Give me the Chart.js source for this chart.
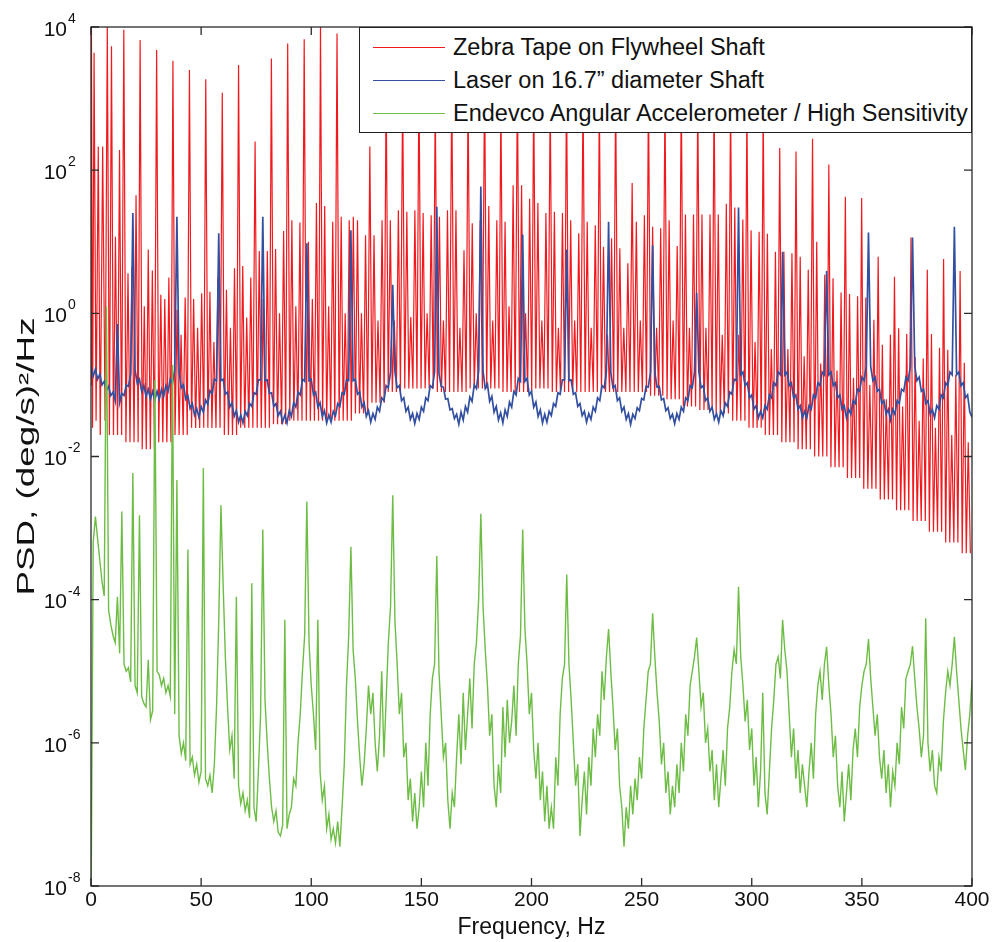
<!DOCTYPE html>
<html>
<head>
<meta charset="utf-8">
<title>PSD comparison</title>
<script src="https://cdn.jsdelivr.net/npm/chart.js@4.4.1/dist/chart.umd.min.js"></script>
<style>
  html, body { margin: 0; padding: 0; background: #fff; }
  #wrap { position: relative; width: 995px; height: 942px; }
  #legend {
    position: absolute; left: 359px; top: 27px; width: 613px; height: 106px;
    box-sizing: border-box; background: #fff; border: 1px solid #222;
    padding-top: 3px; font: 23.5px "Liberation Sans", Arial, sans-serif; color: #111;
  }
  .row { display: flex; align-items: center; height: 33px; white-space: nowrap; }
  .swatch { width: 72px; height: 0; border-top: 1.5px solid; margin: 0 8px 0 13px; }
</style>
</head>
<body>
<div id="wrap">
  <canvas id="psd" width="995" height="942"></canvas>
  <div id="legend"></div>
</div>
<script>
// ─── DATA (all PSD values as log10 of (deg/s)^2/Hz) ───────────────────────────

const seriesNames  = [
  'Zebra Tape on Flywheel Shaft',
  'Laser on 16.7\u201d diameter Shaft',
  'Endevco Angular Accelerometer / High Sensitivity'
];
const seriesColors = ['#f01a1e', '#3350a0', '#6dbd45'];

const xTicks   = [0, 50, 100, 150, 200, 250, 300, 350, 400];
const yTickExp = [-8, -6, -4, -2, 0, 2, 4];

// Zebra tape: comb of shaft-order peaks, each with two side bands and a small
// middle peak before the next order. Offsets (Hz) of those features from each peak.
const redOffsetsHz = [0, 0.95, 1.9, 2.8, 3.7, 4.65, 5.55, 6.5];

const redStartHz  = [0, 0.2, 0.7, 1.4, 2.3, 3.3, 4.2, 5.3, 6.4];
const redStartLog = [-1.0, 4.0, -1.6, 3.64, -1.5, 2.33, -1.7, 2.33, -1.5];

const redPeakHz = [
  7.4, 14.9, 22.3, 29.8, 37.2, 44.7, 52.1, 59.6, 67.0, 74.5,
  81.9, 89.3, 96.8, 104.2, 111.7, 119.1, 126.6, 134.0, 141.5, 148.9,
  156.3, 163.8, 171.2, 178.7, 186.1, 193.6, 201.0, 208.5, 215.9, 223.4,
  230.8, 238.2, 245.7, 253.1, 260.6, 268.0, 275.5, 282.9, 290.4, 297.8,
  305.2, 312.7, 320.1, 327.6, 335.0, 342.5, 349.9, 357.4, 364.8, 372.3,
  379.7, 387.1, 394.6
];
const redPeakLog = [
  4.0, 3.96, 3.82, 3.68, 3.53, 3.40, 3.27, 3.08, 3.47, 2.40,
  3.56, 3.77, 3.83, 4.0, 3.91, 1.35, 2.33, 3.2, 3.1, 3.3,
  3.0, 3.2, 3.1, 3.3, 3.0, 3.2, 3.1, 3.0, 3.2, 3.1,
  3.0, 3.1, 1.82, 3.1, 3.0, 3.2, 3.0, 3.1, 3.0, 2.9,
  2.9, 2.31, 2.26, 2.44, 2.08, 1.63, 1.61, 0.79, 0.51, 1.06,
  0.61, 0.76, 0.59
];
const redSideALog = [
  3.73, 0.56, 0.10, 0.26, 0.05, 0.20, 0.30, 0.33, 0.66, 0.87,
  0.90, 1.30, 1.00, 1.50, 1.35, 1.30, 1.09, 1.30, 1.42, 1.40,
  1.35, 1.44, 1.26, 1.50, 1.28, 1.79, 1.54, 1.42, 1.30, 1.28,
  0.93, 0.91, 1.28, 1.21, 1.30, 1.38, 1.38, 1.38, 1.48, 1.16,
  1.11, 0.86, 0.79, 1.00, 0.49, 0.27, 0.22, -0.44, -0.21, -0.61,
  -0.29, -0.51, -0.69
];
const redMidLog = [
  1.07, 0.65, 0.89, 0.20, -0.30, -0.20, -0.40, -0.20, -0.06, 0.20,
  0.00, 0.10, 0.20, 0.10, 0.00, 0.00, -0.10, -0.10, -0.05, 0.00,
  -0.10, -0.20, 0.00, -0.10, 0.10, 0.00, -0.10, -0.20, -0.10, -0.20,
  -0.30, -0.20, -0.10, -0.20, -0.10, -0.20, -0.20, -0.30, -0.30, -0.40,
  -0.50, -0.50, -0.60, -0.70, -0.80, -0.90, -1.00, -1.20, -1.30, -1.50,
  -1.60, -1.70, -1.80
];
const redSideBLog = [
  2.28, 1.65, 0.60, 0.50, 0.22, 0.28, 0.50, 0.63, 0.50, 0.87,
  1.15, 1.27, 1.54, 1.28, 1.30, 1.09, 1.30, 1.44, 1.44, 1.37,
  1.44, 0.88, 1.30, 1.30, 1.79, 1.60, 1.40, 1.40, 1.12, 1.23,
  1.05, 0.70, 1.37, 1.19, 0.94, 1.38, 1.38, 1.53, 1.31, 1.14,
  0.86, 0.84, 0.61, 0.54, 0.29, 0.24, -0.09, -0.30, -0.29, -0.63,
  -0.48, -0.86, -0.53
];
const redFloorLog = [
  -1.70, -1.80, -1.90, -1.80, -1.70, -1.60, -1.60, -1.70, -1.60, -1.60,
  -1.55, -1.50, -1.50, -1.50, -1.50, -1.40, -1.25, -1.10, -1.05, -1.05,
  -1.10, -1.10, -1.05, -1.05, -1.10, -1.10, -1.05, -1.10, -1.10, -1.10,
  -1.10, -1.10, -1.10, -1.15, -1.20, -1.30, -1.35, -1.40, -1.50, -1.60,
  -1.70, -1.80, -1.90, -2.00, -2.15, -2.30, -2.45, -2.60, -2.75, -2.90,
  -3.05, -3.20, -3.35
];

// Laser and accelerometer: one value per 1 Hz bin, 0..400 Hz
const blueLog = [
  -0.75, -0.88, -0.78, -0.92, -0.85, -1.00, -0.95, -1.08, -1.02, -1.15,
  -1.10, -1.22, -0.15, -1.25, -1.12, -1.15, -1.00, -1.02, -0.85, 1.40,
  -0.79, -0.98, -0.92, -1.09, -1.01, -1.16, -1.06, -1.20, -1.09, -1.21,
  -1.09, -1.20, -1.06, -1.16, -1.01, -1.09, -0.92, -0.98, -0.79, 1.35,
  -0.82, -1.04, -1.00, -1.20, -1.15, -1.33, -1.26, -1.42, -1.33, -1.45,
  -1.30, -1.38, -1.21, -1.27, -1.08, -1.12, -0.92, -0.94, 1.12, -0.94,
  -0.92, -1.13, -1.10, -1.31, -1.25, -1.44, -1.36, -1.52, -1.42, -1.53,
  -1.37, -1.43, -1.26, -1.30, -1.11, -1.13, -0.93, -0.93, 1.35, -0.94,
  -0.93, -1.12, -1.11, -1.30, -1.26, -1.43, -1.37, -1.52, -1.42, -1.53,
  -1.36, -1.44, -1.25, -1.31, -1.10, -1.14, -0.92, -0.95, 0.98, -0.94,
  -0.92, -1.14, -1.10, -1.31, -1.25, -1.44, -1.36, -1.53, -1.42, -1.52,
  -1.37, -1.43, -1.26, -1.30, -1.11, -1.13, -0.93, -0.94, 1.16, -0.94,
  -0.92, -1.13, -1.10, -1.31, -1.25, -1.44, -1.36, -1.52, -1.40, -1.48,
  -1.31, -1.37, -1.18, -1.22, -1.01, -1.04, -0.82, 0.40, -0.82, -1.04,
  -1.01, -1.22, -1.18, -1.37, -1.31, -1.48, -1.40, -1.54, -1.40, -1.48,
  -1.31, -1.37, -1.18, -1.22, -1.01, -1.04, -0.82, 1.49, -0.84, -1.02,
  -1.03, -1.20, -1.19, -1.35, -1.33, -1.47, -1.41, -1.55, -1.38, -1.49,
  -1.30, -1.38, -1.17, -1.23, -1.00, -1.05, -0.80, 1.77, -0.81, -1.05,
  -0.99, -1.23, -1.16, -1.38, -1.30, -1.49, -1.39, -1.53, -1.35, -1.44,
  -1.24, -1.31, -1.09, -1.14, -0.91, -0.95, 1.10, -0.95, -0.91, -1.14,
  -1.09, -1.31, -1.24, -1.44, -1.35, -1.53, -1.41, -1.52, -1.37, -1.43,
  -1.26, -1.30, -1.11, -1.13, -0.93, -0.93, 0.89, -0.94, -0.93, -1.13,
  -1.11, -1.30, -1.26, -1.43, -1.37, -1.52, -1.40, -1.48, -1.31, -1.37,
  -1.18, -1.22, -1.01, -1.04, -0.82, 1.28, -0.82, -1.04, -1.01, -1.22,
  -1.18, -1.37, -1.31, -1.48, -1.40, -1.55, -1.41, -1.47, -1.32, -1.36,
  -1.19, -1.21, -1.02, -1.03, -0.83, 0.95, -0.83, -1.03, -1.02, -1.21,
  -1.19, -1.36, -1.32, -1.47, -1.41, -1.54, -1.40, -1.48, -1.31, -1.37,
  -1.18, -1.22, -1.01, -1.04, -0.82, 0.29, -0.82, -1.04, -1.01, -1.22,
  -1.18, -1.37, -1.31, -1.48, -1.40, -1.52, -1.36, -1.43, -1.25, -1.30,
  -1.10, -1.13, -0.92, -0.94, 1.48, -0.86, -0.82, -1.01, -0.97, -1.18,
  -1.14, -1.34, -1.29, -1.46, -1.37, -1.46, -1.29, -1.34, -1.14, -1.18,
  -0.97, -1.01, -0.82, -0.86, 0.86, -0.86, -0.82, -1.01, -0.97, -1.18,
  -1.14, -1.34, -1.29, -1.46, -1.37, -1.46, -1.29, -1.34, -1.14, -1.18,
  -0.97, -1.01, -0.82, -0.86, 0.59, -0.86, -0.82, -1.01, -0.97, -1.18,
  -1.14, -1.34, -1.29, -1.46, -1.34, -1.41, -1.22, -1.26, -1.06, -1.09,
  -0.89, -0.94, -0.74, 1.13, -0.74, -0.94, -0.89, -1.09, -1.06, -1.26,
  -1.22, -1.41, -1.34, -1.49, -1.34, -1.41, -1.22, -1.26, -1.06, -1.09,
  -0.89, -0.94, -0.74, 1.06, -0.74, -0.94, -0.89, -1.09, -1.06, -1.26,
  -1.22, -1.41, -1.34, -1.46, -1.29, -1.34, -1.14, -1.18, -0.97, -1.01,
  -0.82, -0.86, 1.21, -0.86, -0.82, -1.01, -0.97, -1.18, -1.14, -1.38,
  -1.45
];

const greenLog = [
  -8.50, -3.20, -2.84, -3.15, -3.45, -3.75, -3.95, 0.10, -4.15, -4.35,
  -4.50, -4.60, -3.96, -4.75, -2.77, -4.90, -5.00, -4.95, -5.15, -2.23,
  -5.20, -5.30, -2.82, -5.35, -5.45, -5.50, -4.84, -5.68, -5.55, -0.93,
  -5.00, -5.05, -5.20, -5.10, -5.30, -5.20, -5.35, -0.72, -5.60, -2.33,
  -5.90, -6.15, -6.00, -6.25, -3.30, -6.30, -6.20, -6.45, -6.30, -6.55,
  -6.40, -2.16, -6.50, -6.60, -6.45, -6.70, -6.30, -5.50, -4.30, -2.68,
  -3.80, -4.80, -5.50, -6.10, -5.90, -6.50, -3.96, -6.60, -6.85, -6.70,
  -6.95, -6.80, -7.05, -3.77, -6.90, -7.10, -6.40, -5.60, -3.02, -5.40,
  -6.00, -6.50, -6.90, -7.10, -6.95, -7.25, -7.30, -7.15, -4.28, -7.20,
  -7.00, -6.90, -6.50, -6.60, -6.00, -5.60, -5.00, -4.50, -2.63, -4.60,
  -5.20, -5.60, -6.10, -4.28, -6.40, -6.80, -6.60, -7.20, -7.00, -7.35,
  -7.20, -7.40, -7.10, -7.45, -6.90, -6.30, -5.20, -4.50, -3.26, -4.70,
  -5.10, -5.70, -6.20, -6.60, -6.30, -5.80, -5.20, -5.60, -5.30, -6.00,
  -6.40, -5.90, -5.00, -6.20, -5.40, -4.60, -4.10, -2.54, -4.30, -4.90,
  -5.60, -5.30, -6.20, -6.00, -6.80, -6.50, -7.10, -6.70, -7.20, -6.90,
  -6.40, -6.90, -6.00, -6.60, -5.60, -5.10, -4.90, -3.39, -5.00, -5.60,
  -6.20, -6.00, -6.80, -7.20, -6.70, -6.90, -6.20, -5.60, -6.30, -5.30,
  -6.10, -5.60, -5.10, -5.80, -4.90, -4.60, -4.00, -2.80, -4.10, -4.70,
  -5.20, -5.90, -5.60, -6.60, -6.90, -6.30, -6.70, -5.50, -6.20, -5.40,
  -6.00, -5.70, -5.20, -5.90, -4.90, -4.50, -3.02, -4.40, -4.90, -5.60,
  -5.30, -6.10, -6.50, -6.00, -6.80, -6.40, -7.10, -6.60, -7.20, -6.90,
  -7.20, -6.20, -6.60, -5.60, -5.10, -4.90, -3.65, -4.90, -5.40, -6.00,
  -6.60, -6.30, -7.30, -6.80, -6.40, -7.00, -6.20, -6.60, -5.80, -6.20,
  -5.60, -5.90, -5.00, -5.40, -4.80, -4.41, -5.00, -5.50, -6.10, -5.80,
  -6.60, -6.90, -7.45, -6.90, -7.20, -6.60, -7.00, -6.50, -6.80, -6.20,
  -6.50, -5.80, -5.40, -5.00, -4.90, -4.19, -4.80, -5.30, -5.70, -6.30,
  -6.00, -6.70, -6.40, -7.00, -6.60, -6.90, -6.30, -6.70, -6.00, -6.40,
  -5.60, -5.90, -5.20, -5.00, -4.80, -4.53, -5.00, -5.50, -5.30, -6.00,
  -5.80, -6.40, -6.10, -6.80, -6.30, -6.90, -6.50, -6.10, -6.60, -5.80,
  -5.50, -5.00, -4.70, -4.90, -3.82, -4.80, -5.20, -5.70, -5.40, -6.10,
  -5.80, -6.60, -6.20, -6.90, -6.40, -5.30, -6.70, -7.00, -6.40, -5.80,
  -5.40, -4.90, -4.80, -5.10, -4.28, -4.70, -5.00, -5.60, -6.20, -5.80,
  -6.50, -6.10, -6.70, -6.30, -6.60, -6.90, -6.40, -6.00, -6.50, -5.60,
  -5.20, -5.00, -5.40, -4.90, -4.66, -5.20, -5.60, -6.20, -5.90, -6.60,
  -6.90, -6.40, -7.10, -6.70, -6.30, -6.80, -6.10, -5.80, -6.20, -5.50,
  -5.20, -5.00, -4.90, -4.55, -5.10, -5.50, -5.90, -5.60, -6.20, -6.50,
  -6.10, -6.70, -6.30, -6.90, -6.40, -6.60, -6.00, -6.30, -5.50, -5.80,
  -5.10, -5.00, -4.90, -4.65, -5.10, -5.50, -5.80, -6.20, -5.90, -4.26,
  -6.00, -6.40, -6.10, -6.60, -6.70, -6.20, -6.40, -5.70, -5.30, -5.00,
  -5.20, -4.90, -4.52, -5.00, -5.40, -5.80, -6.10, -6.38, -5.90, -5.60,
  -5.12
];


// ─── BUILD POINTS ────────────────────────────────────────────────────────────
const pt = (hz, lg) => ({ x: hz, y: Math.pow(10, lg) });

function buildRed() {
  const pts = redStartHz.map((hz, i) => pt(hz, redStartLog[i]));
  redPeakHz.forEach((f, n) => {
    const f0 = redFloorLog[n];
    const levels = [redPeakLog[n], f0, redSideALog[n], f0, redMidLog[n], f0, redSideBLog[n], f0];
    redOffsetsHz.forEach((off, k) => {
      const hz = +(f + off).toFixed(2);
      if (hz <= 400) pts.push(pt(hz, levels[k]));
    });
  });
  return pts;
}

const redPts   = buildRed();
const bluePts  = blueLog.map((lg, hz) => pt(hz, lg));
const greenPts = greenLog.map((lg, hz) => pt(hz, lg));


// ─── LEGEND (html, sits over the plot like the original) ─────────────────────
document.getElementById('legend').innerHTML = seriesNames.map((name, i) => `
  <div class="row">
    <span class="swatch" style="border-color:${seriesColors[i]}"></span>
    <span>${name}</span>
  </div>`).join('');


// ─── AXES FRAME, TICKS AND LABELS ────────────────────────────────────────────
const FONT = '"Liberation Sans", Arial, sans-serif';

const framePlugin = {
  id: 'frame',
  afterDraw(chart) {
    const { ctx, chartArea: a, scales: { x, y } } = chart;
    ctx.save();
    ctx.strokeStyle = '#2a2a2a';
    ctx.lineWidth = 1.3;
    ctx.strokeRect(a.left, a.top, a.right - a.left, a.bottom - a.top);

    ctx.fillStyle = '#111';
    ctx.font = `21px ${FONT}`;
    ctx.textAlign = 'center';
    ctx.textBaseline = 'top';
    ctx.beginPath();
    for (const v of xTicks) {
      const px = x.getPixelForValue(v);
      ctx.moveTo(px, a.bottom); ctx.lineTo(px, a.bottom - 8);
      ctx.moveTo(px, a.top);    ctx.lineTo(px, a.top + 8);
      ctx.fillText(String(v), px, a.bottom + 4);
    }
    for (const e of yTickExp) {
      const py = y.getPixelForValue(Math.pow(10, e));
      ctx.moveTo(a.left, py);  ctx.lineTo(a.left + 8, py);
      ctx.moveTo(a.right, py); ctx.lineTo(a.right - 8, py);
    }
    ctx.stroke();

    ctx.textBaseline = 'middle';
    for (const e of yTickExp) {
      const py = y.getPixelForValue(Math.pow(10, e));
      ctx.textAlign = 'right';
      ctx.font = `21px ${FONT}`;
      ctx.fillText('10', a.left - 24, py + 3);
      ctx.textAlign = 'left';
      ctx.font = `14px ${FONT}`;
      ctx.fillText(String(e), a.left - 23, py - 8);
    }

    ctx.font = `23px ${FONT}`;
    ctx.textAlign = 'center';
    ctx.fillText('Frequency, Hz', (a.left + a.right) / 2, 928);

    // the exported figure stretches the rotated label along its length
    ctx.translate(28, (a.top + a.bottom) / 2);
    ctx.rotate(-Math.PI / 2);
    ctx.scale(1.6, 1);
    ctx.fillText('PSD, (deg/s)\u00b2/Hz', 0, 0);
    ctx.restore();
  }
};


// ─── CHART ───────────────────────────────────────────────────────────────────
new Chart(document.getElementById('psd'), {
  type: 'line',
  data: {
    datasets: [
      { label: seriesNames[0], data: redPts,   borderColor: seriesColors[0], borderWidth: 1.2, order: 3 },
      { label: seriesNames[1], data: bluePts,  borderColor: seriesColors[1], borderWidth: 1.7, order: 2 },
      { label: seriesNames[2], data: greenPts, borderColor: seriesColors[2], borderWidth: 1.4, order: 1 }
    ]
  },
  options: {
    responsive: false,
    animation: false,
    devicePixelRatio: 1,
    parsing: false,
    layout: { padding: { left: 91, right: 23, top: 27, bottom: 56 } },
    elements: { point: { radius: 0 }, line: { tension: 0 } },
    scales: {
      x: { type: 'linear', min: 0, max: 400, display: false },
      y: { type: 'logarithmic', min: 1e-8, max: 1e4, display: false }
    },
    plugins: { legend: { display: false }, tooltip: { enabled: false } }
  },
  plugins: [framePlugin]
});
</script>
</body>
</html>
